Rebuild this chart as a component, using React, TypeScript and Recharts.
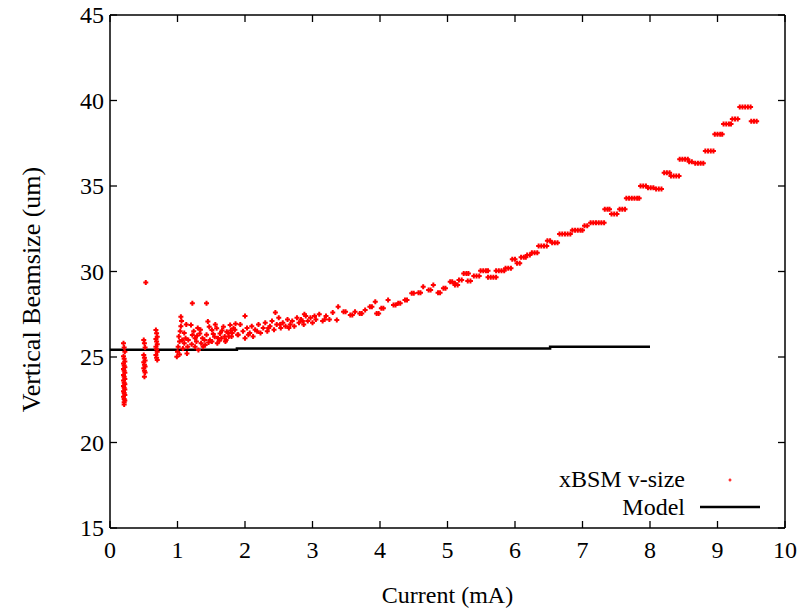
// Vertical beam size vs. bunch current, xBSM data against model

import { ScatterChart, Scatter, XAxis, YAxis, Legend } from "recharts";

const FONT = "'Liberation Serif', 'Times New Roman', serif";

const xTicks = [0, 1, 2, 3, 4, 5, 6, 7, 8, 9, 10];
const yTicks = [15, 20, 25, 30, 35, 40, 45];

// xBSM v-size measurements, [current mA, size um]
const lowCurrentPoints: [number, number][] = [
  [0.2, 25.8], [0.21, 25.55], [0.22, 25.31], [0.2, 25.05], [0.21, 24.9], [0.22, 24.73],
  [0.2, 24.62], [0.21, 24.5], [0.22, 24.4], [0.2, 24.3], [0.21, 24.2], [0.22, 24.08],
  [0.2, 23.95], [0.21, 23.85], [0.22, 23.72], [0.2, 23.62], [0.21, 23.5], [0.22, 23.4],
  [0.2, 23.3], [0.21, 23.2], [0.22, 23.1], [0.2, 23.0], [0.21, 22.9], [0.22, 22.78],
  [0.2, 22.68], [0.21, 22.55], [0.22, 22.45], [0.21, 22.35], [0.21, 22.22],
  [0.5, 26.0], [0.51, 25.8], [0.52, 25.55], [0.5, 25.12], [0.51, 24.95], [0.52, 24.8],
  [0.5, 24.7], [0.51, 24.55], [0.52, 24.45], [0.5, 24.34], [0.51, 24.2], [0.52, 24.1],
  [0.51, 23.85], [0.53, 29.35],
  [0.68, 26.58], [0.69, 26.39], [0.7, 26.19], [0.68, 26.05], [0.69, 25.9], [0.7, 25.75],
  [0.68, 25.6], [0.69, 25.45], [0.7, 25.31], [0.68, 25.12], [0.69, 24.95], [0.7, 24.82],
];

const clusterPoints: [number, number][] = [
  [0.99, 25.02], [1.0, 25.3], [1.01, 25.6], [1.03, 25.9], [1.02, 26.2], [1.04, 26.5],
  [1.05, 26.8], [1.06, 27.1], [1.05, 27.36], [1.08, 25.5], [1.1, 25.8], [1.12, 26.1],
  [1.1, 26.4], [1.14, 25.2], [1.15, 25.6], [1.16, 26.0], [1.13, 26.9], [1.07, 26.0],
  [1.03, 25.15], [1.22, 28.14], [1.43, 28.14],
  [1.2, 26.87], [1.22, 26.29], [1.26, 26.09], [1.28, 25.9], [1.33, 26.38], [1.37, 26.09],
  [1.41, 25.7], [1.45, 27.07], [1.47, 26.77], [1.51, 26.58], [1.55, 26.19], [1.58, 26.68],
  [1.63, 26.38], [1.68, 26.77], [1.73, 26.48], [1.78, 26.87], [1.83, 26.68], [1.26, 25.6],
  [1.31, 25.41], [1.38, 25.6], [1.51, 25.9], [1.6, 26.09], [1.7, 26.2], [1.24, 26.5],
  [1.3, 26.7], [1.35, 25.8], [1.43, 26.3], [1.48, 26.0], [1.56, 26.9], [1.62, 25.95],
  [1.66, 26.55], [1.76, 26.2], [1.81, 26.4], [1.86, 26.95], [1.89, 26.3],
  [1.21, 25.75], [1.29, 26.25], [1.34, 26.6], [1.4, 26.0], [1.46, 25.85], [1.53, 26.35],
  [1.59, 25.8], [1.65, 26.1], [1.71, 25.9], [1.79, 26.55],
];

const midCurrentPoints: [number, number][] = [
  [1.72, 26.0], [1.75, 26.4], [1.8, 26.2], [1.85, 26.6], [1.9, 26.3], [1.93, 26.9],
  [1.97, 26.5], [2.0, 26.1], [2.03, 26.7], [2.07, 26.4], [2.1, 26.8], [2.12, 26.2],
  [2.15, 26.6], [2.2, 26.9], [2.23, 26.4], [2.27, 26.7], [2.3, 27.0], [2.33, 26.5],
  [2.37, 26.8], [2.4, 27.1], [2.43, 26.6], [2.47, 26.9], [2.5, 27.3], [2.53, 26.7],
  [2.56, 27.0], [2.6, 26.8], [2.63, 27.2], [2.67, 26.9], [2.7, 27.1], [2.73, 26.8],
  [2.77, 27.3], [2.8, 27.0], [2.83, 27.2], [2.87, 26.9], [2.9, 27.4], [2.93, 27.1],
  [2.97, 27.3], [3.0, 27.0], [3.05, 27.2], [3.1, 27.5], [3.15, 27.1], [3.2, 27.4],
  [3.25, 27.2], [3.3, 27.6], [2.0, 27.4], [2.45, 27.6], [2.88, 27.5],
  [2.05, 26.3], [2.18, 26.5], [2.35, 26.7], [2.52, 26.9], [2.65, 26.7], [2.85, 27.1],
  [3.03, 27.4], [3.18, 27.2],
  [3.36, 27.16], [3.38, 27.94], [3.46, 27.65], [3.49, 27.65], [3.56, 27.46], [3.59, 27.46],
  [3.63, 27.65], [3.7, 27.55], [3.73, 27.55], [3.78, 27.75], [3.85, 27.94], [3.88, 27.94],
  [3.93, 28.23], [3.95, 27.55], [3.98, 27.55], [4.02, 27.85], [4.05, 27.85], [4.12, 28.33],
  [4.2, 28.04], [4.23, 28.04], [4.27, 28.14], [4.3, 28.14], [4.37, 28.33], [4.4, 28.33],
  [4.47, 28.73], [4.5, 28.73], [4.57, 28.76], [4.6, 28.76], [4.64, 29.11], [4.72, 28.92],
  [4.75, 28.92], [4.79, 29.21], [4.86, 28.76], [4.89, 28.76], [4.94, 29.02], [4.97, 29.02],
  [5.04, 29.4], [5.07, 29.4], [5.11, 29.31],
];

const highCurrentPoints: [number, number][] = [
  [5.11, 29.21], [5.15, 29.21], [5.17, 29.5], [5.21, 29.5], [5.24, 29.89], [5.28, 29.89],
  [5.31, 29.89], [5.3, 29.44], [5.34, 29.44], [5.39, 29.74], [5.43, 29.74], [5.47, 29.74],
  [5.49, 30.05], [5.53, 30.05], [5.57, 30.05], [5.6, 30.05], [5.6, 29.66], [5.64, 29.66],
  [5.68, 29.66], [5.72, 29.66], [5.72, 30.05], [5.76, 30.05], [5.8, 30.05], [5.84, 30.05],
  [5.86, 30.19], [5.9, 30.19], [5.94, 30.19], [5.96, 30.71], [6.0, 30.71], [6.03, 30.48],
  [6.07, 30.48], [6.09, 30.83], [6.13, 30.83], [6.16, 30.83], [6.18, 30.96], [6.22, 30.96],
  [6.25, 31.1], [6.29, 31.1], [6.33, 31.1], [6.35, 31.49], [6.39, 31.49], [6.43, 31.49],
  [6.47, 31.49], [6.48, 31.8], [6.52, 31.8], [6.55, 31.68], [6.59, 31.68], [6.63, 31.68],
  [6.66, 32.19], [6.7, 32.19], [6.74, 32.19], [6.78, 32.19], [6.82, 32.19], [6.85, 32.41],
  [6.89, 32.41], [6.93, 32.41], [6.97, 32.41], [7.0, 32.41], [7.03, 32.68], [7.07, 32.68],
  [7.12, 32.85], [7.16, 32.85], [7.2, 32.85], [7.24, 32.85], [7.28, 32.85], [7.32, 32.85],
  [7.33, 33.64], [7.37, 33.64], [7.4, 33.64], [7.43, 33.36], [7.47, 33.36], [7.51, 33.36],
  [7.55, 33.64], [7.59, 33.64], [7.63, 33.64], [7.65, 34.28], [7.69, 34.28], [7.73, 34.28],
  [7.77, 34.28], [7.81, 34.28], [7.84, 34.28], [7.86, 35.0], [7.9, 35.0], [7.94, 35.0],
  [7.97, 34.9], [8.01, 34.9], [8.05, 34.9], [8.09, 34.82], [8.13, 34.82], [8.17, 34.82],
  [8.21, 35.78], [8.25, 35.78], [8.29, 35.78], [8.31, 35.58], [8.35, 35.58], [8.39, 35.58],
  [8.43, 35.58], [8.44, 36.56], [8.48, 36.56], [8.52, 36.56], [8.56, 36.56], [8.58, 36.42],
  [8.62, 36.42], [8.67, 36.33], [8.71, 36.33], [8.75, 36.33], [8.79, 36.33], [8.82, 37.05],
  [8.86, 37.05], [8.9, 37.05], [8.94, 37.05], [8.96, 38.02], [9.0, 38.02], [9.04, 38.02],
  [9.07, 38.02], [9.09, 38.63], [9.13, 38.63], [9.17, 38.63], [9.2, 38.63], [9.22, 38.92],
  [9.26, 38.92], [9.3, 38.92], [9.33, 39.62], [9.37, 39.62], [9.41, 39.62], [9.45, 39.62],
  [9.49, 39.62], [9.5, 38.78], [9.54, 38.78], [9.58, 38.78],
];

// model curve (um)
const modelCurrent = [0, 1.88, 1.88, 6.52, 6.52, 8.0];
const modelSize = [25.42, 25.42, 25.5, 25.5, 25.6, 25.6];

const measured = [
  ...lowCurrentPoints,
  ...clusterPoints,
  ...midCurrentPoints,
  ...highCurrentPoints,
].map(([x, y]) => ({ x, y }));

const model = modelCurrent.map((x, i) => ({ x, y: modelSize[i] }));

const textStyle = { fontFamily: FONT, fontSize: 24, fill: "#000" };
const axisLine = { stroke: "#000", strokeWidth: 1.5 };

const Cross = (props: any) => {
  const { cx, cy } = props;
  if (cx == null || cy == null) return <g />;
  return (
    <path
      d={`M${cx - 2.5},${cy}H${cx + 2.5}M${cx},${cy - 2.5}V${cy + 2.5}`}
      stroke="#ff0000"
      strokeWidth={2}
      fill="none"
    />
  );
};

// gnuplot-style inward ticks, drawn by each axis
const LeftTick = (p: any) => (
  <g>
    <path d={`M${p.x},${p.y}h7`} stroke="#000" strokeWidth={1.3} />
    <text x={p.x - 6} y={p.y + 8} textAnchor="end" {...textStyle}>
      {p.payload.value}
    </text>
  </g>
);

const RightTick = (p: any) => (
  <path d={`M${p.x},${p.y}h-7`} stroke="#000" strokeWidth={1.3} />
);

const BottomTick = (p: any) => (
  <g>
    <path d={`M${p.x},${p.y}v-7`} stroke="#000" strokeWidth={1.3} />
    <text x={p.x} y={p.y + 30} textAnchor="middle" {...textStyle}>
      {p.payload.value}
    </text>
  </g>
);

const TopTick = (p: any) => (
  <path d={`M${p.x},${p.y}v7`} stroke="#000" strokeWidth={1.3} />
);

const renderLegend = () => (
  <svg width={240} height={70}>
    <text x={145} y={27} textAnchor="end" {...textStyle}>
      xBSM v-size
    </text>
    <path d="M188.5,20H191.5M190,18.5V21.5" stroke="#ff0000" strokeWidth={1.2} />
    <text x={145} y={55} textAnchor="end" {...textStyle}>
      Model
    </text>
    <line x1={160} x2={220} y1={47} y2={47} stroke="#000" strokeWidth={2.5} />
  </svg>
);

export default function App() {
  return (
    <div style={{ position: "absolute", left: 0, top: 0 }}>
      <ScatterChart
        width={811}
        height={609}
        margin={{ top: 14, right: 25, bottom: 0, left: 0 }}
      >
        <XAxis
          type="number"
          dataKey="x"
          domain={[0, 10]}
          ticks={xTicks}
          height={81}
          tickSize={0}
          tickMargin={0}
          tick={BottomTick}
          axisLine={axisLine}
          label={{
            content: (props: any) => {
              const vb = props.viewBox;
              return (
                <text
                  x={vb.x + vb.width / 2}
                  y={vb.y + 75}
                  textAnchor="middle"
                  {...textStyle}
                >
                  Current (mA)
                </text>
              );
            },
          }}
        />
        <XAxis
          xAxisId="top"
          orientation="top"
          type="number"
          dataKey="x"
          domain={[0, 10]}
          ticks={xTicks}
          height={1}
          tickSize={0}
          tickMargin={0}
          tick={TopTick}
          axisLine={axisLine}
        />
        <YAxis
          type="number"
          dataKey="y"
          domain={[15, 45]}
          ticks={yTicks}
          width={110}
          tickSize={0}
          tickMargin={0}
          tick={LeftTick}
          axisLine={axisLine}
          label={{
            content: (props: any) => {
              const vb = props.viewBox;
              const cx = vb.x + 31;
              const cy = vb.y + vb.height / 2 + 18;
              return (
                <text
                  x={cx}
                  y={cy}
                  transform={`rotate(-90 ${cx} ${cy})`}
                  textAnchor="middle"
                  dominantBaseline="central"
                  {...textStyle}
                  fontSize={26}
                >
                  Vertical Beamsize (um)
                </text>
              );
            },
          }}
        />
        <YAxis
          yAxisId="right"
          orientation="right"
          type="number"
          dataKey="y"
          domain={[15, 45]}
          ticks={yTicks}
          width={1}
          tickSize={0}
          tickMargin={0}
          tick={RightTick}
          axisLine={axisLine}
        />
        <Legend
          layout="horizontal"
          verticalAlign="middle"
          align="center"
          content={renderLegend}
          wrapperStyle={{ left: 540, top: 460, width: 240, height: 70 }}
        />
        <Scatter
          name="Model"
          data={model}
          xAxisId="top"
          yAxisId="right"
          line={{ stroke: "#000", strokeWidth: 2.5 }}
          shape={() => <g />}
          isAnimationActive={false}
        />
        <Scatter
          name="xBSM v-size"
          data={measured}
          shape={Cross}
          isAnimationActive={false}
        />
      </ScatterChart>
    </div>
  );
}
